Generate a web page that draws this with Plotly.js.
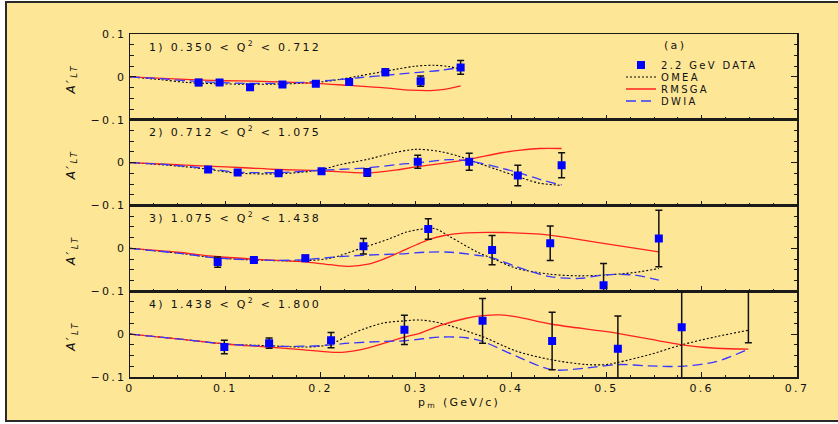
<!DOCTYPE html>
<html>
<head>
<meta charset="utf-8">
<script src="https://cdn.plot.ly/plotly-3.0.1.min.js"></script>
<style>
  html, body { margin:0; padding:0; background:#ffffff; overflow:hidden; width:838px; height:424px; }
  #frame { position:absolute; left:5px; top:1px; width:900px; height:417px; border:2px solid #2a2a2a; background:#FEE697; }
  #chart { position:absolute; left:0; top:0; width:838px; height:424px; }
  svg text { letter-spacing: 2.3px; }
</style>
</head>
<body>
<div id="frame"></div>
<div id="chart"></div>
<script>
// ---------- data: 2.2 GeV measurements ----------
const panelLabels = [
  '1) 0.350 < Q<sup>2</sup> < 0.712',
  '2) 0.712 < Q<sup>2</sup> < 1.075',
  '3) 1.075 < Q<sup>2</sup> < 1.438',
  '4) 1.438 < Q<sup>2</sup> < 1.800'
];
const seriesNames = ['2.2 GeV DATA', 'OMEA', 'RMSGA', 'DWIA'];

const dataX1 = [0.072, 0.094, 0.126, 0.160, 0.195, 0.230, 0.268, 0.305, 0.347];
const dataY1 = [-0.013, -0.013, -0.024, -0.018, -0.016, -0.012, 0.011, -0.010, 0.022];
const dataE1 = [0.007, 0.003, 0.004, 0.004, 0.004, 0.004, 0.008, 0.012, 0.016];

const dataX2 = [0.082, 0.113, 0.156, 0.201, 0.249, 0.302, 0.356, 0.407, 0.453];
const dataY2 = [-0.016, -0.023, -0.025, -0.020, -0.023, 0.002, 0.002, -0.030, -0.006];
const dataE2 = [0.005, 0.003, 0.003, 0.004, 0.009, 0.015, 0.020, 0.024, 0.029];

const dataX3 = [0.092, 0.130, 0.184, 0.245, 0.313, 0.380, 0.441, 0.497, 0.555];
const dataY3 = [-0.032, -0.027, -0.023, 0.005, 0.045, -0.004, 0.012, -0.086, 0.023];
const dataE3 = [0.012, 0.005, 0.007, 0.018, 0.024, 0.034, 0.040, 0.051, 0.066];

const dataX4 = [0.099, 0.146, 0.211, 0.288, 0.370, 0.443, 0.512, 0.579, 0.649];
const dataY4 = [-0.030, -0.021, -0.014, 0.010, 0.031, -0.016, -0.034, 0.016, 0.130];
const dataE4 = [0.016, 0.012, 0.018, 0.034, 0.052, 0.067, 0.076, 0.120, 0.150];

// ---------- model curves ----------
const omeaX1 = [0, 0.03, 0.06, 0.09, 0.12, 0.15, 0.18, 0.20, 0.22, 0.24, 0.26, 0.28, 0.30, 0.32, 0.335, 0.347];
const omeaY1 = [0, -0.006, -0.013, -0.016, -0.017, -0.017, -0.015, -0.012, -0.006, 0.002, 0.010, 0.018, 0.025, 0.027, 0.024, 0.018];
const rmsgaX1 = [0, 0.04, 0.07, 0.10, 0.13, 0.16, 0.195, 0.23, 0.265, 0.295, 0.315, 0.33, 0.347];
const rmsgaY1 = [0, -0.004, -0.007, -0.009, -0.010, -0.012, -0.015, -0.020, -0.025, -0.031, -0.032, -0.029, -0.021];
const dwiaX1 = [0, 0.03, 0.06, 0.09, 0.12, 0.15, 0.18, 0.21, 0.24, 0.27, 0.30, 0.325, 0.347];
const dwiaY1 = [0, -0.004, -0.009, -0.013, -0.015, -0.015, -0.013, -0.008, -0.002, 0.004, 0.010, 0.015, 0.022];

const omeaX2 = [0, 0.04, 0.08, 0.11, 0.155, 0.19, 0.205, 0.22, 0.25, 0.275, 0.30, 0.325, 0.345, 0.36, 0.385, 0.41, 0.43, 0.453];
const omeaY2 = [0, -0.006, -0.015, -0.024, -0.026, -0.020, -0.014, -0.005, 0.008, 0.022, 0.031, 0.026, 0.015, 0.003, -0.016, -0.035, -0.048, -0.053];
const rmsgaX2 = [0, 0.05, 0.08, 0.12, 0.155, 0.20, 0.25, 0.28, 0.30, 0.33, 0.356, 0.39, 0.41, 0.43, 0.453];
const rmsgaY2 = [0, -0.005, -0.008, -0.012, -0.016, -0.019, -0.024, -0.017, -0.010, -0.001, 0.008, 0.023, 0.029, 0.033, 0.033];
const dwiaX2 = [0, 0.04, 0.082, 0.11, 0.155, 0.20, 0.25, 0.283, 0.30, 0.336, 0.356, 0.39, 0.407, 0.43, 0.453];
const dwiaY2 = [0, -0.005, -0.014, -0.022, -0.023, -0.018, -0.012, -0.004, -0.001, 0.007, 0.004, -0.013, -0.023, -0.039, -0.052];

const omeaX3 = [0, 0.05, 0.09, 0.13, 0.18, 0.21, 0.245, 0.273, 0.29, 0.31, 0.32, 0.336, 0.364, 0.38, 0.405, 0.44, 0.47, 0.50, 0.53, 0.555];
const omeaY3 = [0, -0.011, -0.022, -0.027, -0.029, -0.023, 0.002, 0.023, 0.038, 0.046, 0.046, 0.027, -0.008, -0.023, -0.046, -0.060, -0.064, -0.062, -0.056, -0.047];
const rmsgaX3 = [0, 0.05, 0.09, 0.13, 0.18, 0.21, 0.23, 0.25, 0.265, 0.283, 0.301, 0.313, 0.33, 0.353, 0.39, 0.44, 0.49, 0.555];
const rmsgaY3 = [0, -0.009, -0.019, -0.025, -0.031, -0.038, -0.042, -0.037, -0.026, -0.009, 0.009, 0.020, 0.030, 0.036, 0.037, 0.031, 0.014, -0.008];
const dwiaX3 = [0, 0.05, 0.09, 0.13, 0.18, 0.21, 0.245, 0.283, 0.31, 0.336, 0.364, 0.38, 0.406, 0.441, 0.472, 0.497, 0.528, 0.555];
const dwiaY3 = [0, -0.011, -0.022, -0.027, -0.027, -0.021, -0.016, -0.013, -0.009, -0.009, -0.016, -0.022, -0.043, -0.066, -0.070, -0.062, -0.062, -0.074];

const omeaX4 = [0, 0.05, 0.10, 0.145, 0.18, 0.20, 0.213, 0.23, 0.248, 0.266, 0.288, 0.304, 0.325, 0.37, 0.406, 0.443, 0.479, 0.50, 0.512, 0.545, 0.579, 0.615, 0.649];
const omeaY4 = [0, -0.011, -0.023, -0.027, -0.030, -0.028, -0.021, -0.002, 0.014, 0.026, 0.031, 0.033, 0.026, -0.006, -0.040, -0.060, -0.071, -0.071, -0.066, -0.048, -0.025, -0.006, 0.009];
const rmsgaX4 = [0, 0.05, 0.10, 0.145, 0.18, 0.21, 0.225, 0.248, 0.288, 0.304, 0.325, 0.353, 0.37, 0.388, 0.406, 0.443, 0.512, 0.579, 0.615, 0.649];
const rmsgaY4 = [0, -0.011, -0.023, -0.030, -0.036, -0.042, -0.042, -0.033, -0.007, 0.002, 0.020, 0.037, 0.043, 0.045, 0.040, 0.023, 0.002, -0.025, -0.033, -0.035];
const dwiaX4 = [0, 0.05, 0.10, 0.145, 0.20, 0.23, 0.266, 0.288, 0.325, 0.353, 0.37, 0.406, 0.443, 0.479, 0.512, 0.545, 0.579, 0.615, 0.649];
const dwiaY4 = [0, -0.011, -0.023, -0.028, -0.027, -0.021, -0.017, -0.0155, -0.007, -0.0085, -0.017, -0.052, -0.083, -0.079, -0.071, -0.074, -0.075, -0.064, -0.035];

// ---------- build ----------
const FONT = 'DejaVu Sans, Liberation Sans, Arial, sans-serif';
const panels = [
  {dx: dataX1, dy: dataY1, de: dataE1, ox: omeaX1, oy: omeaY1, rx: rmsgaX1, ry: rmsgaY1, wx: dwiaX1, wy: dwiaY1},
  {dx: dataX2, dy: dataY2, de: dataE2, ox: omeaX2, oy: omeaY2, rx: rmsgaX2, ry: rmsgaY2, wx: dwiaX2, wy: dwiaY2},
  {dx: dataX3, dy: dataY3, de: dataE3, ox: omeaX3, oy: omeaY3, rx: rmsgaX3, ry: rmsgaY3, wx: dwiaX3, wy: dwiaY3},
  {dx: dataX4, dy: dataY4, de: dataE4, ox: omeaX4, oy: omeaY4, rx: rmsgaX4, ry: rmsgaY4, wx: dwiaX4, wy: dwiaY4}
];

const traces = [];
const curveTraces = [];
panels.forEach((p, i) => {
  const s = i === 0 ? '' : String(i + 1);
  const xa = 'x' + s, ya = 'y' + s;
  curveTraces.push({x: p.ox, y: p.oy, xaxis: xa, yaxis: ya, type: 'scatter', mode: 'lines',
    name: seriesNames[1], legend: 'legend2', showlegend: i === 0,
    line: {color: '#000000', width: 1.1, dash: '2px,2px', shape: 'spline', smoothing: 0.9}});
  curveTraces.push({x: p.rx, y: p.ry, xaxis: xa, yaxis: ya, type: 'scatter', mode: 'lines',
    name: seriesNames[2], legend: 'legend3', showlegend: i === 0,
    line: {color: '#ff2020', width: 1.3, shape: 'spline', smoothing: 0.9}});
  curveTraces.push({x: p.wx, y: p.wy, xaxis: xa, yaxis: ya, type: 'scatter', mode: 'lines',
    name: seriesNames[3], legend: 'legend4', showlegend: i === 0,
    line: {color: '#3838ff', width: 1.3, dash: '10px,5px', shape: 'spline', smoothing: 0.9}});
  traces.push({x: p.dx, y: p.dy, xaxis: xa, yaxis: ya, type: 'scatter', mode: 'markers',
    name: seriesNames[0], legend: 'legend', showlegend: i === 0,
    marker: {symbol: 'square', size: 8, color: '#0000ff', line: {width: 0}},
    error_y: {type: 'data', array: p.de, visible: true, color: '#111111', thickness: 1.5, width: 3.5}});
});

const axisColor = '#1a1a1a';
const layout = {
  width: 838, height: 424,
  margin: {l: 130, r: 41, t: 34, b: 47},
  paper_bgcolor: 'rgba(0,0,0,0)', plot_bgcolor: 'rgba(0,0,0,0)',
  font: {family: FONT, size: 11, color: '#111111'},
  showlegend: true,
  annotations: []
};
const domains = [[0.75, 1], [0.5, 0.75], [0.25, 0.5], [0, 0.25]];
for (let i = 0; i < 4; i++) {
  const s = i === 0 ? '' : String(i + 1);
  layout['xaxis' + s] = {
    domain: [0, 1], range: [0, 0.7], anchor: 'y' + s,
    showline: true, mirror: true, linecolor: axisColor, linewidth: 1.5,
    ticks: 'inside', ticklen: 5, tickwidth: 1.2, tickcolor: axisColor,
    tickmode: 'linear', tick0: 0, dtick: 0.1,
    minor: {dtick: 0.025, ticks: 'inside', ticklen: 2.5, tickwidth: 1, tickcolor: axisColor},
    showticklabels: i === 3, showgrid: false, zeroline: false,
    tickfont: {family: FONT, size: 11, color: '#111111'},
    fixedrange: true
  };
  if (i > 0) layout['xaxis' + s].matches = 'x';
  layout['yaxis' + s] = {
    domain: domains[i], range: [-0.1, 0.1], anchor: 'x' + s,
    showline: true, mirror: 'ticks', linecolor: axisColor, linewidth: 1.5,
    ticks: 'inside', ticklen: 6, tickwidth: 1.2, tickcolor: axisColor,
    tickmode: 'array',
    tickvals: i === 0 ? [-0.1, 0, 0.1] : [-0.1, 0],
    ticktext: i === 0 ? ['\u22120.1', '0', '0.1'] : ['\u22120.1', '0'],
    minor: {dtick: 0.025, ticks: 'inside', ticklen: 3.5, tickwidth: 1, tickcolor: axisColor},
    showgrid: false, zeroline: false,
    tickfont: {family: FONT, size: 11, color: '#111111'},
    fixedrange: true
  };
  layout.annotations.push({
    xref: 'x' + s, yref: 'y' + s, x: 0.018, y: 0.072, xanchor: 'left', yanchor: 'middle',
    text: panelLabels[i], showarrow: false, font: {family: FONT, size: 11, color: '#111111'}
  });
  layout.annotations.push({
    xref: 'paper', yref: 'y' + s, x: -0.087, y: -0.006, xanchor: 'center', yanchor: 'middle',
    text: '<i>A\u2032<sub>LT</sub></i>', textangle: -90, showarrow: false,
    font: {family: FONT, size: 12, color: '#111111'}
  });
}
layout.annotations.push({
  xref: 'x', yref: 'y', x: 0.572, y: 0.073, xanchor: 'center', yanchor: 'middle',
  text: '(a)', showarrow: false, font: {family: FONT, size: 11, color: '#111111'}
});
layout.annotations.push({
  xref: 'paper', yref: 'paper', x: 0.494, y: -0.076, xanchor: 'center', yanchor: 'middle',
  text: 'p<sub>m</sub> (GeV/c)', showarrow: false, font: {family: FONT, size: 11, color: '#111111'}
});

const legY = [0.9096, 0.8746, 0.8397, 0.8047];
['legend', 'legend2', 'legend3', 'legend4'].forEach((k, j) => {
  layout[k] = {
    x: 0.7361, y: legY[j], xref: 'paper', yref: 'paper', xanchor: 'left', yanchor: 'middle',
    bgcolor: 'rgba(0,0,0,0)', borderwidth: 0,
    font: {family: FONT, size: 10, color: '#111111'}
  };
});

Plotly.newPlot('chart', curveTraces.concat(traces), layout, {staticPlot: true, displayModeBar: false});
</script>
</body>
</html>
